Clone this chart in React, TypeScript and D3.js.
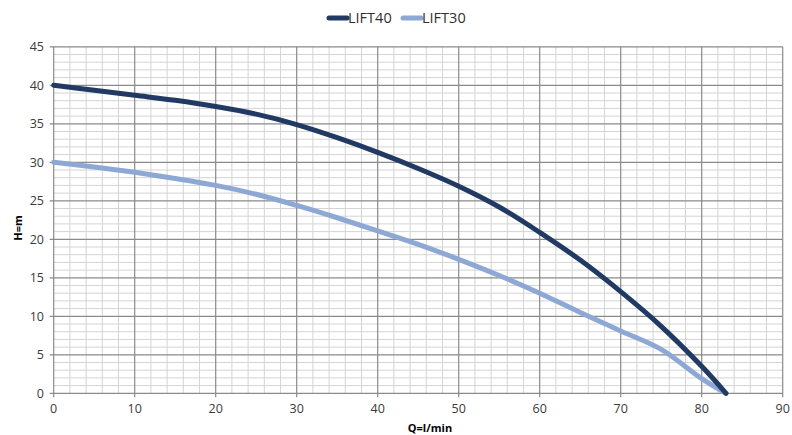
import React from "react";
import * as d3 from "d3";

const flow = [0, 5, 10, 15, 20, 25, 30, 35, 40, 45, 50, 55, 60, 65, 70, 75, 80, 83];
const lift40 = [40, 39.35, 38.7, 38.05, 37.25, 36.25, 34.9, 33.2, 31.3, 29.2, 26.9, 24.2, 20.9, 17.3, 13.2, 8.7, 3.5, 0];
const lift30 = [30, 29.4, 28.7, 27.9, 27.0, 25.85, 24.4, 22.8, 21.1, 19.35, 17.4, 15.3, 13.0, 10.5, 8.1, 5.7, 1.9, 0];
const xTicks = [0, 10, 20, 30, 40, 50, 60, 70, 80, 90];
const yTicks = [0, 5, 10, 15, 20, 25, 30, 35, 40, 45];
const seriesNames = ["LIFT40", "LIFT30"];

const W = 792;
const H = 435;
const left = 53.7;
const right = 782.7;
const top = 46.8;
const bottom = 393.3;
const font = "'Open Sans', 'Liberation Sans', sans-serif";
const colors = ["#203a63", "#8ea8d6"];

export default function App() {
  const x = d3.scaleLinear().domain([0, 90]).range([left, right]);
  const y = d3.scaleLinear().domain([0, 45]).range([bottom, top]);
  const line = d3
    .line<number>()
    .x((_, i) => x(flow[i]))
    .y((d) => y(d))
    .curve(d3.curveCatmullRom.alpha(0.5));

  const minorX = d3.range(0, 91, 2).filter((v) => v % 10 !== 0);
  const minorY = d3.range(0, 46, 1).filter((v) => v % 5 !== 0);

  return (
    <svg width={W} height={H} style={{ position: "absolute", left: 0, top: 0, background: "#fff" }}>
      <g>
        {minorX.map((v) => (
          <line key={"mx" + v} x1={x(v)} x2={x(v)} y1={top} y2={bottom} stroke="#d4d4d4" strokeWidth={1} />
        ))}
        {minorY.map((v) => (
          <line key={"my" + v} x1={left} x2={right} y1={y(v)} y2={y(v)} stroke="#d4d4d4" strokeWidth={1} />
        ))}
        {xTicks.map((v) => (
          <line key={"Mx" + v} x1={x(v)} x2={x(v)} y1={top} y2={bottom + 4} stroke="#8a8a8a" strokeWidth={1.2} />
        ))}
        {yTicks.map((v) => (
          <line key={"My" + v} x1={left - 4} x2={right} y1={y(v)} y2={y(v)} stroke="#8a8a8a" strokeWidth={1.2} />
        ))}
      </g>
      {xTicks.map((v) => (
        <text key={"tx" + v} x={x(v)} y={413} textAnchor="middle" fontFamily={font} fontSize={12.5} fill="#3a3a3a">
          {v}
        </text>
      ))}
      {yTicks.map((v) => (
        <text key={"ty" + v} x={44} y={y(v) + 4.5} textAnchor="end" fontFamily={font} fontSize={12.5} fill="#3a3a3a">
          {v}
        </text>
      ))}
      <path d={line(lift30) || ""} fill="none" stroke={colors[1]} strokeWidth={5} strokeLinecap="round" />
      <path d={line(lift40) || ""} fill="none" stroke={colors[0]} strokeWidth={5} strokeLinecap="round" />
      <text x={430} y={432} textAnchor="middle" fontFamily={font} fontSize={11} fontWeight="bold" fill="#000">
        Q=l/min
      </text>
      <text
        transform="translate(22,228) rotate(-90)"
        textAnchor="middle"
        fontFamily={font}
        fontSize={11}
        fontWeight="bold"
        fill="#000"
      >
        H=m
      </text>
      {seriesNames.map((n, i) => {
        const lx = 329 + i * 74;
        return (
          <g key={n}>
            <line x1={lx} x2={lx + 18} y1={18} y2={18} stroke={colors[i]} strokeWidth={5} strokeLinecap="round" />
            <text x={lx + 19} y={23} fontFamily={font} fontSize={14.5} fill="#303030">
              {n}
            </text>
          </g>
        );
      })}
    </svg>
  );
}
